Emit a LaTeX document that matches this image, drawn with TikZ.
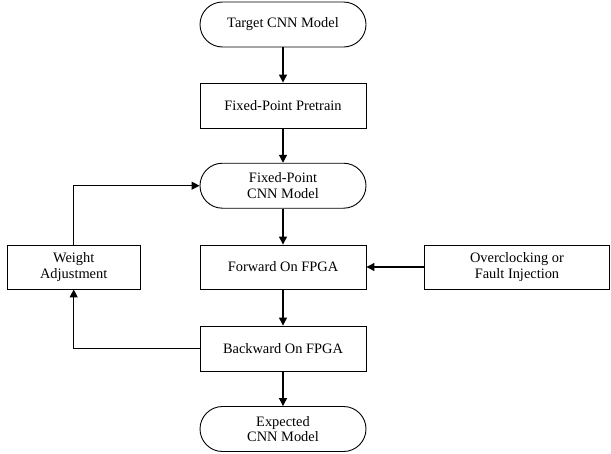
\documentclass[tikz,border=0pt]{standalone}
\usepackage{fontspec}
\setmainfont{Liberation Serif}
\newfontfamily\diagfont{Liberation Serif}
\usetikzlibrary{arrows.meta}
\begin{document}
\begin{tikzpicture}[x=1pt,y=-1pt,
  every node/.style={font=\diagfont\fontsize{14.4}{15.5}\selectfont, align=center, inner sep=0pt},
  boxnode/.style={draw, line width=0.9pt, minimum width=166pt, minimum height=45pt},
  termnode/.style={boxnode, rounded corners=22.5pt},
  flow/.style={line width=1.2pt, -{Triangle[length=8pt,width=8pt]}}]
\useasboundingbox (0,0) rectangle (611,453);
\node[termnode] (target) at (283,24.5) {Target CNN Model};
\node[boxnode] (pretrain) at (283,105.5) {Fixed-Point Pretrain};
\node[termnode] (fpcnn) at (283,185.7) {Fixed-Point\\CNN Model};
\node[boxnode, minimum height=44pt] (forward) at (283,267) {Forward On FPGA};
\node[boxnode, minimum width=133pt, minimum height=44pt] (weight) at (73.7,267) {Weight\\Adjustment};
\node[boxnode, minimum width=185pt, minimum height=44pt] (over) at (517,267) {Overclocking or\\Fault Injection};
\node[boxnode] (backward) at (283,348.5) {Backward On FPGA};
\node[termnode] (expected) at (283,429) {Expected\\CNN Model};
\draw[flow] (target) -- (pretrain);
\draw[flow] (pretrain) -- (fpcnn);
\draw[flow] (fpcnn) -- (forward);
\draw[flow] (forward) -- (backward);
\draw[flow] (backward) -- (expected);
\draw[flow] (over) -- (forward);
\draw[flow] (backward.west) -| (weight.south);
\draw[flow] (weight.north) |- (fpcnn.west);
\end{tikzpicture}
\end{document}
